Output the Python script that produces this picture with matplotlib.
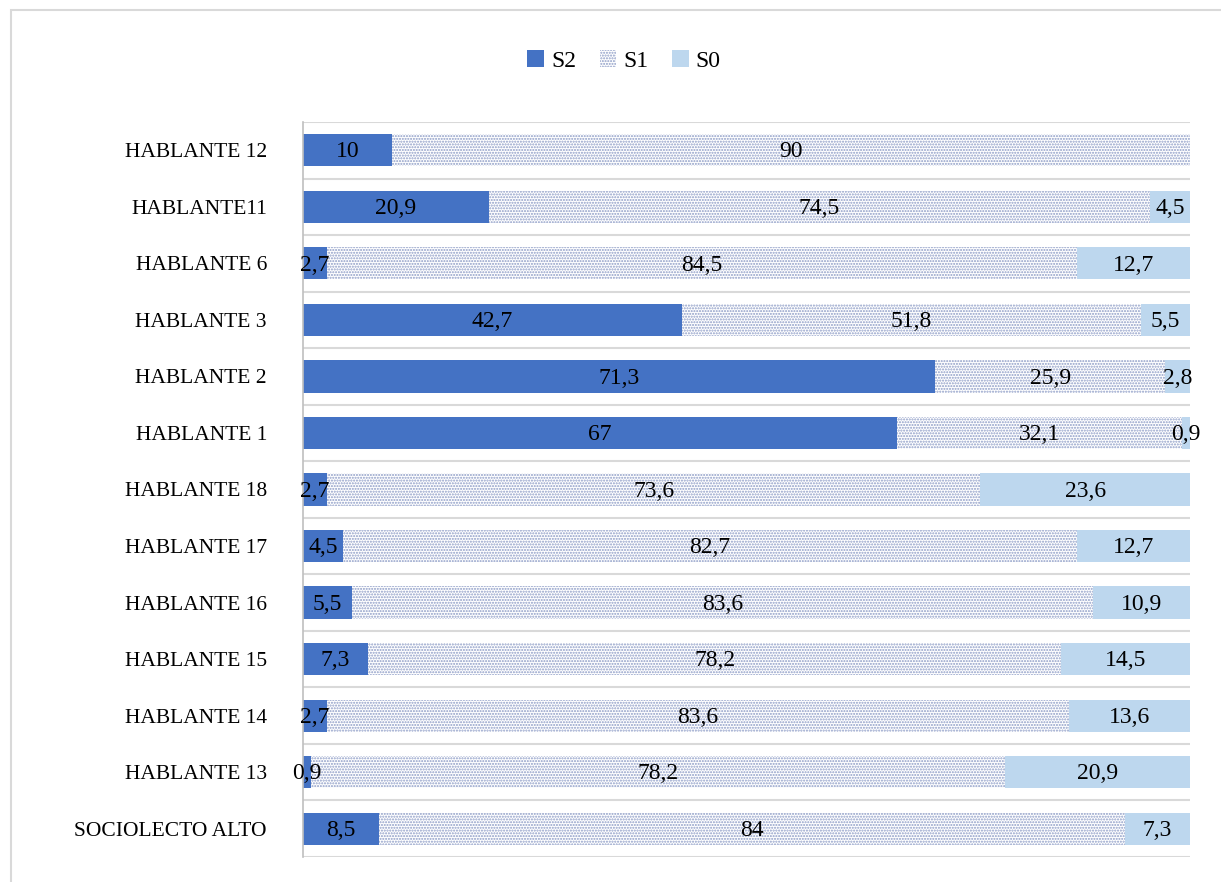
import numpy as np
import matplotlib
matplotlib.use("Agg")
import matplotlib.pyplot as plt
from matplotlib.patches import Rectangle

plt.rcParams["font.family"] = ["Liberation Serif", "DejaVu Serif"]
plt.rcParams["hatch.linewidth"] = 1.0

# bottom-to-top order
speakers = ["SOCIOLECTO ALTO", "HABLANTE 13", "HABLANTE 14", "HABLANTE 15",
            "HABLANTE 16", "HABLANTE 17", "HABLANTE 18", "HABLANTE 1",
            "HABLANTE 2", "HABLANTE 3", "HABLANTE 6", "HABLANTE11", "HABLANTE 12"]
s2 = [8.5, 0.9, 2.7, 7.3, 5.5, 4.5, 2.7, 67, 71.3, 42.7, 2.7, 20.9, 10]
s1 = [84, 78.2, 83.6, 78.2, 83.6, 82.7, 73.6, 32.1, 25.9, 51.8, 84.5, 74.5, 90]
s0 = [7.3, 20.9, 13.6, 14.5, 10.9, 12.7, 23.6, 0.9, 2.8, 5.5, 12.7, 4.5, 0]

series = [("S2", s2, dict(color="#4472C4")),
          ("S1", s1, dict(color="white", hatch="......", edgecolor="#8d9cc6", linewidth=0)),
          ("S0", s0, dict(color="#BDD7EE"))]


def fmt(v):
    return f"{v:g}".replace(".", ",")


fig = plt.figure(figsize=(12.21, 8.82), dpi=100)
fig.patches.append(Rectangle((11 / 1221, -0.1), 1.2, 1 - 10 / 882 + 0.1,
                             transform=fig.transFigure, fill=False,
                             edgecolor="#d9d9d9", linewidth=1.5))
ax = fig.add_axes([303 / 1221, 25 / 882, 887 / 1221, 735 / 882])

y = np.arange(len(speakers))
totals = np.array(s2) + np.array(s1) + np.array(s0)
left = np.zeros(len(speakers))
for name, vals, style in series:
    share = np.array(vals) / totals * 100
    bars = ax.barh(y, share, left=left, height=0.57, label=name, **style)
    for b, v in zip(bars, vals):
        if v > 0:
            ax.text(b.get_x() + b.get_width() / 2, b.get_y() + b.get_height() / 2 - 0.03,
                    fmt(v), ha="center", va="center", fontsize=17, color="black")
    left += share

ax.set_xlim(0, 100)
ax.set_ylim(-0.5, len(speakers) - 0.5)
for b in np.arange(-0.5, len(speakers), 1.0):
    ax.axhline(b, color="#d9d9d9", linewidth=1.5, zorder=0)
ax.set_yticks(y)
ax.set_yticklabels(speakers, fontsize=15.5)
ax.tick_params(axis="y", length=0, pad=26)
ax.set_xticks([])
for s in ["top", "right", "bottom"]:
    ax.spines[s].set_visible(False)
ax.spines["left"].set_color("#bfbfbf")
ax.spines["left"].set_linewidth(1.2)

fig.legend(loc="center", bbox_to_anchor=(624 / 1221, 1 - 61 / 882), ncol=3, frameon=False,
           fontsize=17, handlelength=0.7, handleheight=0.7, handletextpad=0.3,
           columnspacing=1.0)

fig.savefig("out.png", dpi=100)
